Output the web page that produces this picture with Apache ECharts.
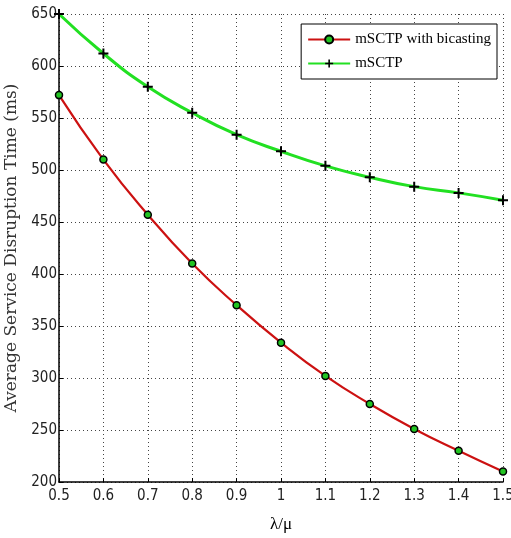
<!DOCTYPE html>
<html><head><meta charset="utf-8">
<script src="https://cdn.jsdelivr.net/npm/echarts@6/dist/echarts.min.js"></script>
<style>html,body{margin:0;padding:0;background:#fff}#c{width:511px;height:538px}</style>
</head><body><div id="c"></div>
<script>
var xValues = [0.5, 0.6, 0.7, 0.8, 0.9, 1.0, 1.1, 1.2, 1.3, 1.4, 1.5];
var bicasting = [572, 510, 457, 410, 370, 334, 302, 275, 251, 230, 210];
var msctp = [650, 612, 580, 555, 534, 518, 504, 493, 484, 478, 471];
var seriesNames = ['mSCTP with bicasting', 'mSCTP'];

function pairs(v) { return xValues.map(function (x, i) { return [x, v[i]]; }); }
var plus = 'path://M4,0h2v4h4v2h-4v4h-2v-4h-4v-2h4z';
var tickFont = '"DejaVu Sans Condensed", "Liberation Sans Narrow", sans-serif';
var chart = echarts.init(document.getElementById('c'));
chart.setOption({
  backgroundColor: '#fff',
  animation: false,
  grid: { left: 59, right: 8, top: 14, bottom: 56, containLabel: false, outerBoundsMode: 'none' },
  legend: {
    right: 14, top: 24, orient: 'vertical',
    backgroundColor: '#fff', borderColor: '#000', borderWidth: 1,
    padding: [8, 6, 8, 6], itemGap: 9, itemWidth: 42, itemHeight: 10,
    textStyle: { fontFamily: 'Liberation Serif', fontSize: 15, color: '#000' },
    data: seriesNames
  },
  xAxis: {
    type: 'value', min: 0.5, max: 1.5, interval: 0.1,
    name: 'λ/μ', nameLocation: 'middle', nameGap: 34,
    nameTextStyle: { fontFamily: 'Liberation Serif', fontSize: 17, color: '#000' },
    axisLine: { lineStyle: { color: '#000', width: 1.5 } },
    axisTick: { inside: true, length: 4, lineStyle: { color: '#000' } },
    axisLabel: { fontFamily: tickFont, fontSize: 15, color: '#222', margin: 7,
      formatter: function (v) { return String(Math.round(v * 10) / 10); } },
    splitLine: { show: true, lineStyle: { color: '#444', type: [1, 3], width: 1 } }
  },
  yAxis: {
    type: 'value', min: 200, max: 650, interval: 50,
    name: 'Average Service Disruption Time (ms)', nameLocation: 'middle', nameGap: 38,
    nameTextStyle: { fontFamily: 'DejaVu Serif', fontSize: 17, color: '#333' },
    axisLine: { show: true, lineStyle: { color: '#000', width: 1.5 } },
    axisTick: { show: true, inside: true, length: 4, lineStyle: { color: '#000' } },
    axisLabel: { fontFamily: tickFont, fontSize: 15, color: '#222', margin: 2 },
    splitLine: { show: true, lineStyle: { color: '#444', type: [1, 3], width: 1 } }
  },
  series: [
    {
      name: seriesNames[0], type: 'line', smooth: true, data: pairs(bicasting),
      symbol: 'circle', symbolSize: 7,
      lineStyle: { color: '#cc1111', width: 2.2 },
      itemStyle: { color: '#22c422', borderColor: '#000', borderWidth: 1.5 }
    },
    {
      name: seriesNames[1], type: 'line', smooth: true, data: pairs(msctp),
      symbol: plus, symbolSize: 10,
      lineStyle: { color: '#22e022', width: 3 },
      itemStyle: { color: '#000', borderWidth: 0 }
    }
  ]
});
</script></body></html>
